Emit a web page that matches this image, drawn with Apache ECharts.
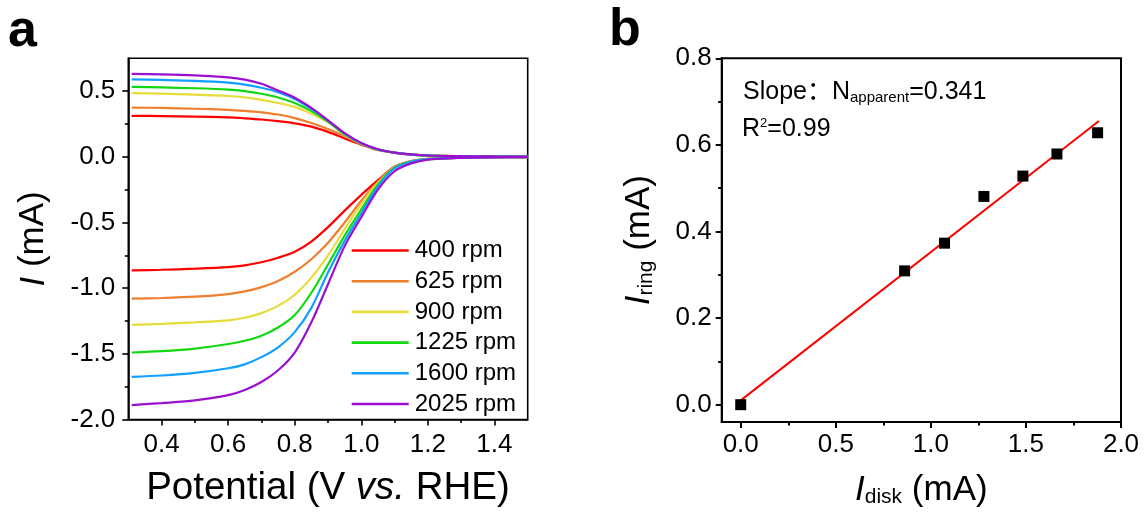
<!DOCTYPE html>
<html>
<head>
<meta charset="utf-8">
<script src="https://cdn.jsdelivr.net/npm/echarts@6/dist/echarts.min.js"></script>
<style>
html,body{margin:0;padding:0;background:#fff;}
#chart{width:1145px;height:513px;}
</style>
</head>
<body>
<div id="chart"></div>
<script>
// ---------- Panel a data ----------
const potential = [0.31,0.4,0.5,0.6,0.65,0.7,0.75,0.8,0.85,0.9,0.95,1.0,1.05,1.1,1.15,1.2,1.3,1.4,1.5];
const rpmNames = ['400 rpm','625 rpm','900 rpm','1225 rpm','1600 rpm','2025 rpm'];
const ring400  = [0.312,0.310,0.306,0.300,0.293,0.284,0.271,0.255,0.230,0.190,0.140,0.093,0.052,0.030,0.016,0.009,0.005,0.003,0.002];
const ring625  = [0.375,0.372,0.366,0.358,0.350,0.339,0.322,0.295,0.258,0.212,0.158,0.097,0.054,0.031,0.016,0.009,0.005,0.003,0.002];
const ring900  = [0.485,0.481,0.474,0.463,0.452,0.434,0.410,0.380,0.328,0.262,0.168,0.100,0.055,0.031,0.017,0.010,0.005,0.003,0.002];
const ring1225 = [0.532,0.528,0.522,0.512,0.500,0.480,0.452,0.410,0.348,0.268,0.172,0.102,0.056,0.032,0.017,0.010,0.005,0.003,0.002];
const ring1600 = [0.590,0.585,0.578,0.565,0.550,0.526,0.492,0.440,0.365,0.275,0.177,0.104,0.057,0.032,0.017,0.010,0.005,0.003,0.002];
const ring2025 = [0.632,0.628,0.620,0.605,0.588,0.556,0.505,0.450,0.372,0.278,0.180,0.105,0.058,0.032,0.018,0.010,0.005,0.003,0.002];
const disk400  = [-0.865,-0.860,-0.852,-0.840,-0.826,-0.803,-0.768,-0.722,-0.645,-0.535,-0.410,-0.290,-0.178,-0.076,-0.033,-0.016,-0.007,-0.003,-0.002];
const disk625  = [-1.080,-1.075,-1.065,-1.045,-1.025,-0.992,-0.945,-0.875,-0.780,-0.655,-0.500,-0.335,-0.190,-0.078,-0.034,-0.016,-0.007,-0.003,-0.002];
const disk900  = [-1.280,-1.272,-1.260,-1.245,-1.225,-1.190,-1.135,-1.050,-0.920,-0.750,-0.550,-0.360,-0.200,-0.080,-0.035,-0.016,-0.007,-0.003,-0.002];
const disk1225 = [-1.490,-1.480,-1.460,-1.425,-1.400,-1.362,-1.300,-1.205,-1.035,-0.820,-0.600,-0.400,-0.212,-0.083,-0.036,-0.017,-0.007,-0.003,-0.002];
const disk1600 = [-1.675,-1.665,-1.645,-1.610,-1.580,-1.525,-1.450,-1.335,-1.150,-0.880,-0.640,-0.430,-0.225,-0.088,-0.038,-0.018,-0.007,-0.003,-0.002];
const disk2025 = [-1.890,-1.875,-1.855,-1.815,-1.775,-1.715,-1.625,-1.490,-1.260,-0.970,-0.680,-0.460,-0.250,-0.110,-0.050,-0.022,-0.008,-0.004,-0.002];

// ---------- Panel b data ----------
const diskCurrent = [0.0, 0.862, 1.072, 1.279, 1.484, 1.663, 1.877];
const ringCurrent = [0.0, 0.309, 0.373, 0.481, 0.528, 0.579, 0.628];
const fitX = [0.0, 1.884];
const fitY = [0.010, 0.655];

// ---------- tick values ----------
const xMajorA = [0.4,0.6,0.8,1.0,1.2,1.4];
const xMinorA = [0.5,0.7,0.9,1.1,1.3];
const yMajorA = [-2.0,-1.5,-1.0,-0.5,0.0,0.5];
const yMinorA = [-1.75,-1.25,-0.75,-0.25,0.25];
const xMajorB = [0.0,0.5,1.0,1.5,2.0];
const xMinorB = [0.25,0.75,1.25,1.75];
const yMajorB = [0.0,0.2,0.4,0.6,0.8];
const yMinorB = [0.1,0.3,0.5,0.7];

const colors = ['#ff0000','#ef7f2e','#e6dc3c','#11d811','#10a0ff','#9b10d0'];
const ringSets = [ring400, ring625, ring900, ring1225, ring1600, ring2025];
const diskSets = [disk400, disk625, disk900, disk1225, disk1600, disk2025];

const FONT = "'Liberation Sans', Arial, 'Noto Sans CJK SC', sans-serif";
const pair = (xs, ys) => xs.map((x, i) => [x, ys[i]]);

const series = [];
for (let k = 0; k < 6; k++) {
  [ringSets[k], diskSets[k]].forEach(set => {
    series.push({
      type: 'line', name: rpmNames[k], xAxisIndex: 0, yAxisIndex: 0,
      data: pair(potential, set), showSymbol: false, symbol: 'none',
      smooth: 0.3,
      lineStyle: { color: colors[k], width: 2.2 },
      itemStyle: { color: colors[k] }, z: 3 + k
    });
  });
}
series.push({
  type: 'line', name: 'fit', xAxisIndex: 2, yAxisIndex: 2,
  data: pair(fitX, fitY), symbol: 'none', lineStyle: { color: '#ff0000', width: 2 }, z: 3
});
series.push({
  type: 'scatter', name: 'points', xAxisIndex: 2, yAxisIndex: 2,
  data: pair(diskCurrent, ringCurrent), symbol: 'rect', symbolSize: 11,
  itemStyle: { color: '#000', opacity: 1 }, z: 4
});

function majorAxis(opts) {
  const lw = opts.lw;
  return {
    type: 'value', gridIndex: opts.grid, min: opts.min, max: opts.max, position: opts.pos,
    axisLine: { show: true, onZero: false, lineStyle: { color: '#000', width: lw } },
    axisTick: { show: true, inside: false, length: 6, customValues: opts.major, lineStyle: { color: '#000', width: lw } },
    axisLabel: { show: true, customValues: opts.major, margin: opts.margin, formatter: v => (+v).toFixed(1),
      fontSize: 26, color: '#000', fontFamily: FONT },
    splitLine: { show: false },
    name: opts.name, nameLocation: 'middle', nameGap: opts.nameGap,
    nameTextStyle: { fontSize: opts.fs, color: '#000', fontFamily: FONT, lineHeight: opts.fs, rich: opts.rich }
  };
}
function minorAxis(opts) {
  return {
    type: 'value', gridIndex: opts.grid, min: opts.min, max: opts.max, position: opts.pos,
    axisLine: { show: false, onZero: false },
    axisTick: { show: true, inside: false, length: 3.5, customValues: opts.minor, lineStyle: { color: '#000', width: opts.lw } },
    axisLabel: { show: false }, splitLine: { show: false }
  };
}
function richTitle(fs) {
  return {
    n: { fontSize: fs, fontFamily: FONT, color: '#000', lineHeight: fs },
    i: { fontSize: fs, fontFamily: FONT, color: '#000', fontStyle: 'italic', lineHeight: fs },
    s: { fontSize: 21, fontFamily: FONT, color: '#000', verticalAlign: 'bottom', lineHeight: fs }
  };
}

const option = {
  animation: false,
  backgroundColor: '#fff',
  title: [
    { text: 'a', left: 8, top: 6, padding: 0, textStyle: { fontSize: 52, fontWeight: 'bold', fontFamily: FONT, color: '#000', lineHeight: 52 } },
    { text: 'b', left: 609, top: 5, padding: 0, textStyle: { fontSize: 52, fontWeight: 'bold', fontFamily: FONT, color: '#000', lineHeight: 52 } },
    { text: '{n|Slope：N}{s|apparent}{n|=0.341}', left: 743, top: 80, padding: 0,
      textStyle: { fontSize: 25, fontWeight: 'normal', fontFamily: FONT, color: '#000', lineHeight: 25,
        rich: { n: { fontSize: 25, fontWeight: 'normal', fontFamily: FONT, color: '#000', lineHeight: 25 },
                s: { fontSize: 15, fontWeight: 'normal', fontFamily: FONT, color: '#000', lineHeight: 25, verticalAlign: 'bottom' } } } },
    { text: '{n|R}{p|2}{n|=0.99}', left: 742, top: 117, padding: 0,
      textStyle: { fontSize: 25, fontWeight: 'normal', fontFamily: FONT, color: '#000', lineHeight: 25,
        rich: { n: { fontSize: 25, fontWeight: 'normal', fontFamily: FONT, color: '#000', lineHeight: 25 },
                p: { fontSize: 13, fontWeight: 'normal', fontFamily: FONT, color: '#000', lineHeight: 25, verticalAlign: 'top' } } } }
  ],
  legend: {
    orient: 'vertical', left: 351.7, top: 238.5, padding: 0,
    data: rpmNames, icon: 'rect', itemWidth: 57, itemHeight: 2.6, itemGap: 6.7,
    textStyle: { fontSize: 24, fontFamily: FONT, color: '#000', lineHeight: 24, padding: [0, 0, 0, 1] },
    selectedMode: false
  },
  grid: [
    { left: 128.3, top: 58.3, width: 399.4, height: 366, show: true, borderColor: '#000', borderWidth: 1.6, backgroundColor: 'transparent', containLabel: false },
    { left: 721.7, top: 58.3, width: 399.3, height: 365, show: true, borderColor: '#000', borderWidth: 2, backgroundColor: 'transparent', containLabel: false }
  ],
  xAxis: [
    majorAxis({ grid: 0, min: 0.3, max: 1.5, pos: 'bottom', major: xMajorA, lw: 1.6, margin: 12,
      name: '{n|Potential (V }{i|vs.}{n| RHE)}', nameGap: 50, fs: 38.5, rich: richTitle(38.5) }),
    minorAxis({ grid: 0, min: 0.3, max: 1.5, pos: 'bottom', minor: xMinorA, lw: 1.6 }),
    majorAxis({ grid: 1, min: -0.1, max: 2.0, pos: 'bottom', major: xMajorB, lw: 2, margin: 10,
      name: '{i|I}{s|disk}{n| (mA)}', nameGap: 51, fs: 35, rich: richTitle(35) }),
    minorAxis({ grid: 1, min: -0.1, max: 2.0, pos: 'bottom', minor: xMinorB, lw: 2 })
  ],
  yAxis: [
    majorAxis({ grid: 0, min: -2.0, max: 0.75, pos: 'left', major: yMajorA, lw: 1.6, margin: 13,
      name: '{i|I}{n| (mA)}', nameGap: 77, fs: 35, rich: richTitle(35) }),
    minorAxis({ grid: 0, min: -2.0, max: 0.75, pos: 'left', minor: yMinorA, lw: 1.6 }),
    majorAxis({ grid: 1, min: -0.04, max: 0.8, pos: 'left', major: yMajorB, lw: 2, margin: 10,
      name: '{i|I}{s|ring}{n| (mA)}', nameGap: 65, fs: 35, rich: richTitle(35) }),
    minorAxis({ grid: 1, min: -0.04, max: 0.8, pos: 'left', minor: yMinorB, lw: 2 })
  ],
  series: series
};

const chart = echarts.init(document.getElementById('chart'), null, { renderer: 'canvas' });
chart.setOption(option);
</script>
</body>
</html>
